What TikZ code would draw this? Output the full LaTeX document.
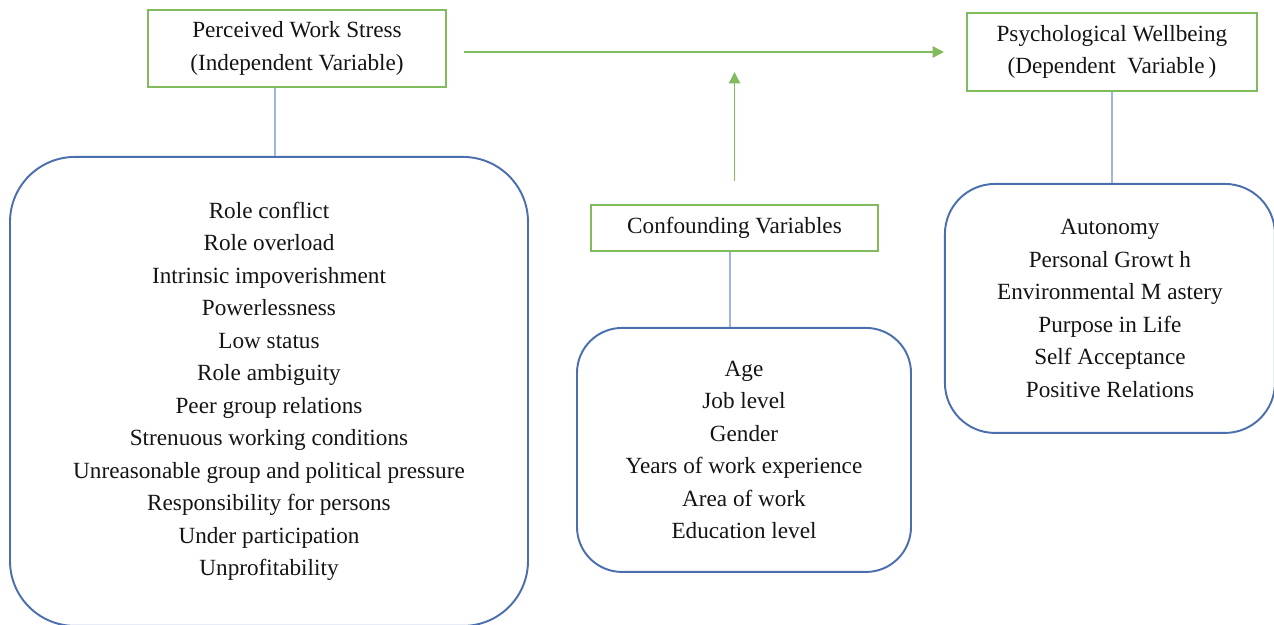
\documentclass[tikz,border=0pt]{standalone}
\usepackage{fontspec}
\setmainfont{Liberation Serif}
\usepackage{xcolor}
\usepackage{tikz}
\usetikzlibrary{arrows.meta,positioning}
\definecolor{VarGreen}{HTML}{82BB5E}
\definecolor{GroupBlue}{HTML}{4A6EAE}
\definecolor{LinkBlue}{HTML}{9DB5E0}
\definecolor{TextGrey}{HTML}{141414}
\tikzset{
  varbox/.style={
    draw=VarGreen,
    line width=1.1pt,
    align=center,
    text=TextGrey,
    font=\fontsize{13.2}{18.6}\selectfont,
    inner sep=0pt
  },
  groupbox/.style={
    draw=GroupBlue,
    line width=1.1pt,
    align=center,
    text=TextGrey,
    font=\fontsize{13.2}{18.5}\selectfont,
    inner sep=0pt
  },
  link/.style={draw=LinkBlue, line width=0.7pt},
  flowarrow/.style={draw=VarGreen, line width=0.85pt,
    -{Triangle[length=6.5pt,width=6.5pt]}}
}
\begin{document}
\begin{tikzpicture}
  \useasboundingbox (0,0) rectangle (25.48,-12.5);
  \node[varbox, minimum width=5.96cm, minimum height=1.54cm] (stress) at (5.94,-0.97)
    {Perceived Work Stress\\(Independent Variable)};
  \node[varbox, minimum width=5.8cm, minimum height=1.56cm, right=10.38cm of stress, yshift=-0.07cm] (wellbeing)
    {Psychological Wellbeing\\(Dependent\ \ Variable\,)};
  \node[varbox, minimum width=5.74cm, minimum height=0.92cm] (confound) at (14.69,-4.56)
    {Confounding Variables};
  \node[groupbox, rounded corners=1.3cm, minimum width=10.36cm, minimum height=9.38cm,
        below=1.36cm of stress, xshift=-0.56cm] (stressitems)
    {Role conflict\\Role overload\\Intrinsic impoverishment\\Powerlessness\\Low status\\
     Role ambiguity\\Peer group relations\\Strenuous working conditions\\
     Unreasonable group and political pressure\\Responsibility for persons\\
     Under participation\\Unprofitability};
  \node[groupbox, rounded corners=0.9cm, minimum width=6.68cm, minimum height=4.88cm,
        below=1.5cm of confound, xshift=0.19cm] (confitems)
    {Age\\Job level\\Gender\\Years of work experience\\Area of work\\Education level};
  \node[groupbox, rounded corners=1.0cm, minimum width=6.6cm, minimum height=4.98cm,
        below=1.82cm of wellbeing, xshift=-0.04cm] (wellitems)
    {Autonomy\\Personal Growt h\\Environmental M astery\\Purpose in Life\\
     Self Acceptance\\Positive Relations};
  % links from variables to their items
  \draw[link] ([xshift=-0.44cm]stress.south) -- ([xshift=-0.44cm]stress.south |- stressitems.north);
  \draw[link] (wellbeing.south) -- (wellbeing.south |- wellitems.north);
  \draw[link] ([xshift=-0.09cm]confound.south) -- ([xshift=-0.09cm]confound.south |- confitems.north);
  % effect arrows
  \coordinate (flowstart) at ([xshift=0.34cm,yshift=-0.07cm]stress.east);
  \coordinate (flowend) at ([xshift=-0.44cm]wellbeing.west);
  \draw[flowarrow] (flowstart) -- (flowend);
  \draw[flowarrow] ([yshift=0.46cm]confound.north) -- ([yshift=2.64cm]confound.north);
\end{tikzpicture}
\end{document}
